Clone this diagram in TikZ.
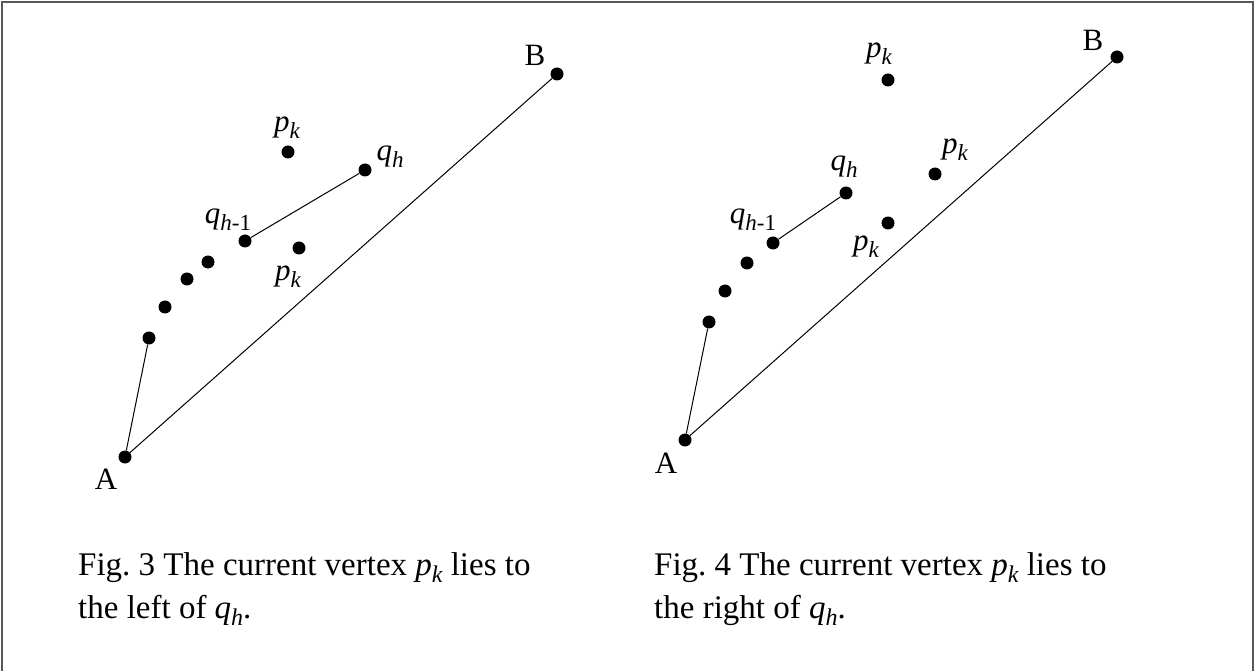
\documentclass[tikz,border=0pt]{standalone}
\usepackage{amsmath}
\usepackage{fontspec}
\setmainfont{Liberation Serif}
\usepackage{tikz}
\usetikzlibrary{positioning}
\newcommand{\lblidx}[1]{\raisebox{-0.23em}{\fontsize{23}{23}\selectfont\itshape #1}}
\newcommand{\capidx}[1]{\raisebox{-0.23em}{\fontsize{24}{24}\selectfont\itshape #1}}

\begin{document}
\begin{tikzpicture}[x=1pt,y=-1pt,
  vtx/.style={circle,fill=black,inner sep=0pt,minimum size=13pt},
  lbl/.style={inner sep=0pt,font=\fontsize{31}{36}\selectfont},
  figcap/.style={inner sep=0pt,align=left,font=\fontsize{33}{43}\selectfont},
  edge/.style={line width=1pt},
  frame/.style={draw=black!65,line width=1.6pt}]
\useasboundingbox (0,0) rectangle (1254,671);
\draw[frame] (2,671) -- (2,2) -- (1253,2) -- (1253,671);
% left figure
\node[vtx] (a1) at (125,457) {};
\node[vtx] (d1) at (149,338) {};
\node[vtx] (d2) at (165,307) {};
\node[vtx] (d3) at (187,279) {};
\node[vtx] (d4) at (208,262) {};
\node[vtx] (qa1) at (245,241) {};
\node[vtx] (qb1) at (365,170) {};
\node[vtx] (pa1) at (288,152) {};
\node[vtx] (pb1) at (299,248) {};
\node[vtx] (b1) at (557,74) {};
\node[lbl] (la1) at (106,479) {A};
\node[lbl] (lb1) at (535,55) {B};
\node[lbl] (lqa1) at (228,220) {\textit{q}\lblidx{h\textup{-1}}};
\node[lbl] (lqb1) at (390,157) {\textit{q}\lblidx{h}};
\node[lbl] (lpa1) at (287,128) {\textit{p}\lblidx{k}};
\node[lbl] (lpb1) at (288,277) {\textit{p}\lblidx{k}};
\foreach \x/\y in {a1/b1,a1/d1,qa1/qb1} \draw[edge] (\x) -- (\y);
% right figure
\node[vtx] (a2) at (685,440) {};
\node[vtx] (e1) at (709,322) {};
\node[vtx] (e2) at (725,291) {};
\node[vtx] (e3) at (747,263) {};
\node[vtx] (qa2) at (773,243) {};
\node[vtx] (qb2) at (846,193) {};
\node[vtx] (pa2) at (888,80) {};
\node[vtx] (pb2) at (935,174) {};
\node[vtx] (pc2) at (888,223) {};
\node[vtx] (b2) at (1117,57) {};
\node[lbl] (la2) at (666,463) {A};
\node[lbl] (lb2) at (1093,40) {B};
\node[lbl] (lqa2) at (753,220) {\textit{q}\lblidx{h\textup{-1}}};
\node[lbl] (lqb2) at (844,167) {\textit{q}\lblidx{h}};
\node[lbl] (lpa2) at (879,54) {\textit{p}\lblidx{k}};
\node[lbl] (lpb2) at (955,150) {\textit{p}\lblidx{k}};
\node[lbl] (lpc2) at (866,247) {\textit{p}\lblidx{k}};
\foreach \x/\y in {a2/b2,a2/e1,qa2/qb2} \draw[edge] (\x) -- (\y);
% captions
\node[figcap,anchor=north west] (c3) at (78,552) {Fig.~3 The current vertex \textit{p}\capidx{k} lies to\\the left of \textit{q}\capidx{h}.};
\node[figcap,anchor=north west] (c4) at (654,552) {Fig.~4 The current vertex \textit{p}\capidx{k} lies to\\the right of \textit{q}\capidx{h}.};
\end{tikzpicture}
\end{document}
